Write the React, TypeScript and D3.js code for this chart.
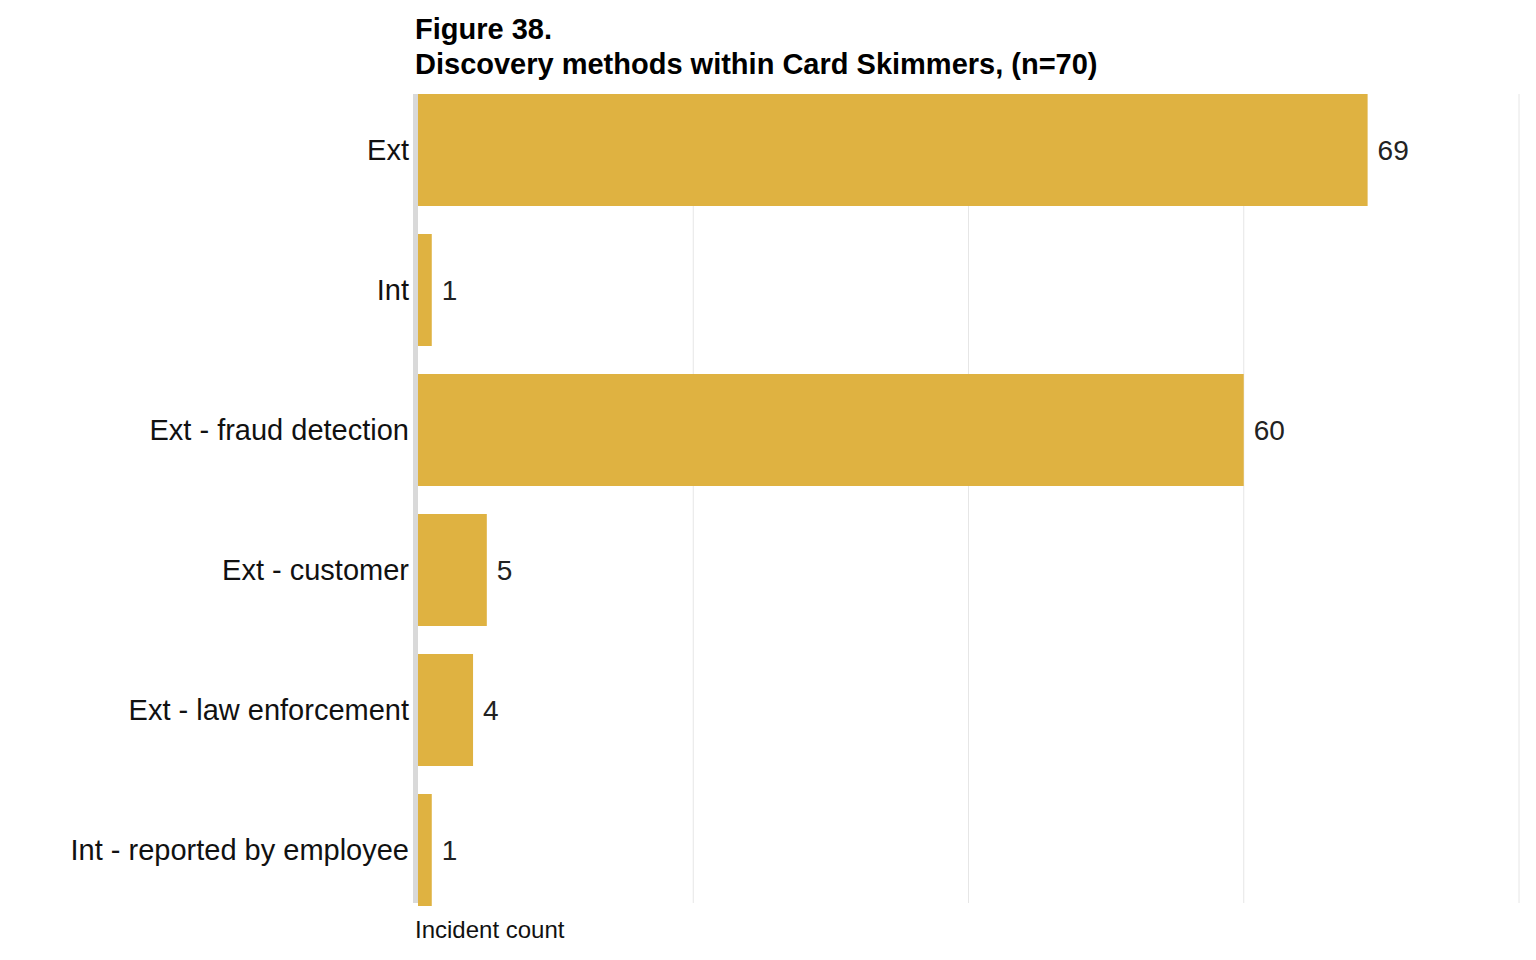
import React, { useEffect, useRef } from 'react'
import * as d3 from 'd3'

const categories = ['Ext', 'Int', 'Ext - fraud detection', 'Ext - customer', 'Ext - law enforcement', 'Int - reported by employee']
const counts = [69, 1, 60, 5, 4, 1]
const gridTicks = [20, 40, 60, 80]

export default function App() {
  const svgRef = useRef<SVGSVGElement>(null)

  useEffect(() => {
    if (!svgRef.current) return
    const svg = d3.select(svgRef.current)
    svg.selectAll('*').remove()
    const font = '"Liberation Sans", Arial, sans-serif'

    const x = d3.scaleLinear().domain([0, 80]).range([418, 1519])
    const y = d3.scaleBand().domain(categories).range([80, 920]).paddingInner(0.2).paddingOuter(0.1)

    svg.append('g').selectAll('line').data(gridTicks).join('line')
      .attr('x1', (d) => x(d)).attr('x2', (d) => x(d))
      .attr('y1', 94).attr('y2', 903)
      .attr('stroke', '#e6e6e6').attr('stroke-width', 1)

    svg.append('g').selectAll('rect').data(categories).join('rect')
      .attr('x', x(0))
      .attr('y', (d) => y(d)!)
      .attr('width', (_, i) => x(counts[i]) - x(0))
      .attr('height', y.bandwidth())
      .attr('fill', '#dfb241')

    svg.append('rect').attr('x', 413).attr('y', 94).attr('width', 5).attr('height', 809).attr('fill', '#d9d9d9')

    svg.append('g').selectAll('text').data(categories).join('text')
      .attr('x', 409).attr('y', (d) => y(d)! + y.bandwidth() / 2)
      .attr('dy', '0.35em').attr('text-anchor', 'end')
      .style('font-family', font).style('font-size', '29px').attr('fill', '#111')
      .text((d) => d)

    svg.append('g').selectAll('text').data(categories).join('text')
      .attr('x', (_, i) => x(counts[i]) + 10).attr('y', (d) => y(d)! + y.bandwidth() / 2)
      .attr('dy', '0.35em')
      .style('font-family', font).style('font-size', '28px').attr('fill', '#222')
      .text((_, i) => counts[i])

    svg.append('text').attr('x', 415).attr('y', 39)
      .style('font-family', font).style('font-size', '29px').style('font-weight', 'bold')
      .text('Figure 38.')
    svg.append('text').attr('x', 415).attr('y', 74)
      .style('font-family', font).style('font-size', '29px').style('font-weight', 'bold')
      .text('Discovery methods within Card Skimmers, (n=70)')
    svg.append('text').attr('x', 415).attr('y', 938)
      .style('font-family', font).style('font-size', '24px').attr('fill', '#111')
      .text('Incident count')
  }, [])

  return <svg ref={svgRef} width={1536} height={960} style={{ position: 'absolute', left: 0, top: 0 }} />
}
